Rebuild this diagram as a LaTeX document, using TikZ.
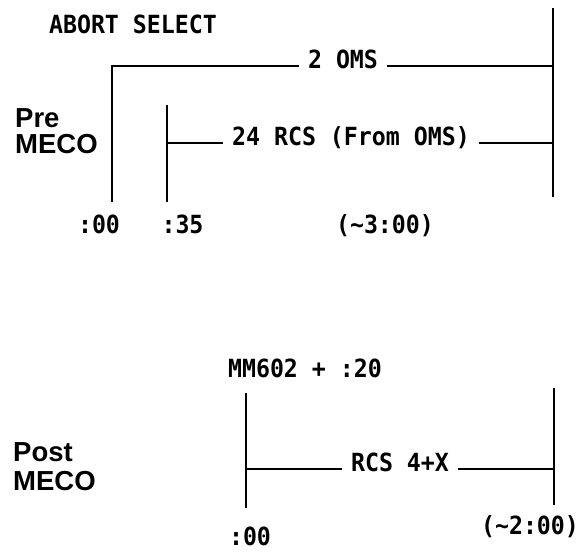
\documentclass[tikz,border=0pt]{standalone}
\usepackage{fontspec}
\setmainfont{Liberation Sans}
\newfontfamily\typefont{DejaVu Sans Mono Bold}[FakeStretch=0.93]
\usetikzlibrary{positioning}

\begin{document}
\begin{tikzpicture}[x=1pt, y=-1pt,
  lbl/.style={font=\typefont\fontsize{25}{28}\selectfont, inner sep=0pt, anchor=base},
  onl/.style={font=\typefont\fontsize{25}{28}\selectfont, inner ysep=0pt, inner xsep=9pt,
              text height=4pt, text depth=0pt},
  phase/.style={font=\bfseries\fontsize{27.5}{30}\selectfont, inner sep=0pt, anchor=base west},
  bar/.style={line width=2.7pt},
  leg/.style={line width=2.6pt}]
\useasboundingbox (0,0) rectangle (579,552);
% pre MECO: abort select, OMS then RCS from OMS
\node[lbl] (abort) at (133,33) {ABORT SELECT};
\node[phase] (pre) at (15,127) {Pre};
\node[phase] (premeco) at (15,153) {MECO};
\coordinate (endtop) at (553,8);
\coordinate (endbot) at (553,197);
\coordinate (t00) at (112,202);
\coordinate (t35top) at (167,105);
\coordinate (t35) at (167,202);
\node[onl] (oms) at (343,66) {2 OMS};
\node[onl] (rcs) at (351,143) {24 RCS (From OMS)};
\draw[bar] (endtop) -- (endbot);
\draw[bar] (t35top) -- (t35);
\draw[leg] (t00) |- (oms.west);
\draw[leg] (oms.east) -- (oms.east -| endtop);
\draw[leg] (rcs.west -| t35) -- (rcs.west);
\draw[leg] (rcs.east) -- (rcs.east -| endtop);
\node[lbl] (l00) at (99,233) {:00};
\node[lbl] (l35) at (182.5,233) {:35};
\node[lbl] (l300) at (385,233) {(\textasciitilde3:00)};
% post MECO: RCS 4+X
\node[lbl] (mm) at (305,377) {MM602 + :20};
\node[phase] (post) at (13,461) {Post};
\node[phase] (postmeco) at (13,490) {MECO};
\coordinate (ptop) at (246,393);
\coordinate (pbot) at (246,508);
\coordinate (qtop) at (554,388);
\coordinate (qbot) at (554,505);
\node[onl] (rcsx) at (400,469) {RCS 4+X};
\draw[bar] (ptop) -- (pbot);
\draw[bar] (qtop) -- (qbot);
\draw[leg] (rcsx.west -| ptop) -- (rcsx.west);
\draw[leg] (rcsx.east) -- (rcsx.east -| qtop);
\node[lbl] (p00) at (250,545) {:00};
\node[lbl] (p200) at (530,534) {(\textasciitilde2:00)};
\end{tikzpicture}
\end{document}
